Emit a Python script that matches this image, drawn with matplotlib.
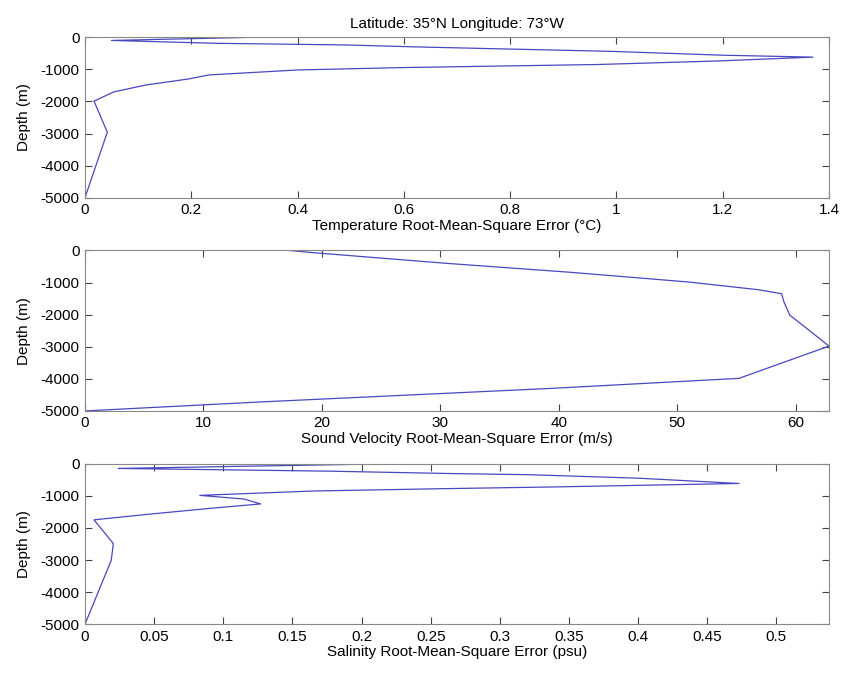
import numpy as np
import matplotlib
matplotlib.use("Agg")
from matplotlib import pyplot as plt
from matplotlib.ticker import FormatStrFormatter

# temperature rms error profile (deg C) vs depth (m)
temp_depth = [0, -100, -190, -240, -300, -350, -440, -560, -620,
              -740, -850, -945, -1020, -1175, -1300, -1490, -1705, -1990, -2960, -5000]
temp_err = [0.32, 0.05, 0.25, 0.49, 0.62, 0.75, 0.99, 1.2, 1.37,
            1.19, 0.965, 0.6, 0.40, 0.233, 0.195, 0.114, 0.054, 0.017, 0.042, 0.0]

# sound velocity rms error (m/s)
sv_depth = [0, -60, -400, -680, -984, -1221, -1346, -1605, -2019, -2450, -2980,
            -3985, -4300, -4720, -5000]
sv_err = [17.3, 19.0, 30.5, 41.0, 51.0, 56.8, 58.8, 59.0, 59.5, 61.0, 62.8,
          55.2, 39.2, 14.8, 0.0]

# salinity rms error (psu)
sal_depth = [0, -146, -230, -310, -340, -450, -615, -725, -777, -850, -985,
             -1100, -1252, -1400, -1578, -1748, -2488, -3007, -5000]
sal_err = [0.22, 0.024, 0.175, 0.27, 0.32, 0.40, 0.473, 0.336, 0.259, 0.165, 0.083,
           0.115, 0.127, 0.088, 0.045, 0.0065, 0.0205, 0.019, 0.0]

panels = [
    (temp_err, temp_depth, [0, 1.4], np.arange(0, 1.41, 0.2),
     'Temperature Root-Mean-Square Error (\u00b0C)'),
    (sv_err, sv_depth, [0, 62.8], np.arange(0, 61, 10),
     'Sound Velocity Root-Mean-Square Error (m/s)'),
    (sal_err, sal_depth, [0, 0.538], np.arange(0, 0.51, 0.05),
     'Salinity Root-Mean-Square Error (psu)'),
]

plt.rcParams['font.family'] = ['Liberation Sans', 'DejaVu Sans']
plt.rcParams['axes.unicode_minus'] = False

fig = plt.figure(figsize=(8.44, 6.77), dpi=100)
bottoms = [0.708, 0.393, 0.078]
line_col = '#4848c0'

for (err, depth, xlim, xticks, xlabel), b in zip(panels, bottoms):
    ax = fig.add_axes([0.1007, b, 0.8815, 0.237])
    ax.plot(err, depth, color=line_col, lw=0.9)
    ax.set_xlim(xlim)
    ax.set_ylim(-5000, 0)
    ax.set_xticks(xticks)
    ax.set_yticks(np.arange(-5000, 1, 1000))
    ax.xaxis.set_major_formatter(FormatStrFormatter('%g'))
    ax.tick_params(direction='in', top=True, right=True, labelsize=11,
                   length=5, color='#444444', pad=4)
    for s in ax.spines.values():
        s.set_color('#888888')
        s.set_linewidth(0.8)
    ax.set_xlabel(xlabel, fontsize=11, labelpad=1)
    ax.set_ylabel('Depth (m)', fontsize=11, labelpad=7)
    if b == bottoms[0]:
        ax.set_title('Latitude: 35\u00b0N Longitude: 73\u00b0W', fontsize=11, pad=7)

fig.savefig('out.png', dpi=100)
